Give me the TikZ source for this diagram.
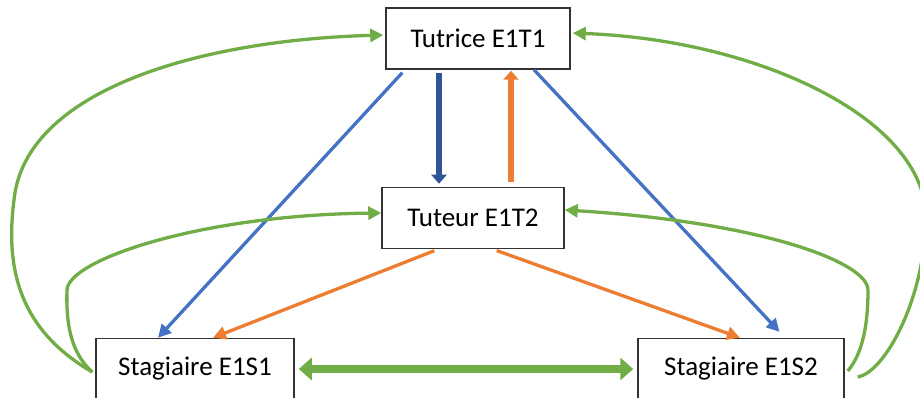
\documentclass[tikz,border=0pt]{standalone}
\usepackage{fontspec}
\setmainfont{Carlito}
\usepackage{tikz}
\usetikzlibrary{arrows.meta,positioning}
\definecolor{offblue}{HTML}{4472C4}
\definecolor{offnavy}{HTML}{2F5597}
\definecolor{offorange}{HTML}{ED7D31}
\definecolor{offgreen}{HTML}{70AD47}
\tikzset{box/.style={draw=black!80,line width=1.5pt,fill=white,inner sep=0pt,align=center,minimum height=61pt,font=\fontsize{27}{30}\selectfont}}
\tikzset{fat/.style={line width=6.5pt,-{Triangle[length=9pt,width=15pt]}}}

\begin{document}
\begin{tikzpicture}[x=1pt, y=-1pt, ->, >={Triangle[length=13pt,width=13pt]}, line width=3.3pt]
        \useasboundingbox (0,0) rectangle (920,398);
        \clip (0,0) rectangle (920,398);
        \node[box,minimum width=184pt] (t1) at (478,38.5) {Tutrice E1T1};
        \node[box,minimum width=182pt] (t2) at (473,218) {Tuteur E1T2};
        \node[box,minimum width=198pt] (s1) at (195,369) {Stagiaire E1S1};
        \node[box,minimum width=206pt] (s2) at (741,369) {Stagiaire E1S2};
        \draw[offblue, shorten <=4pt] ([xshift=-73pt]t1.south) -- ([xshift=-37pt]s1.north);
        \draw[offblue, shorten >=8pt] ([xshift=56pt]t1.south) -- ([xshift=44pt]s2.north);
        \draw[offnavy, fat, shorten <=3pt, shorten >=3pt] ([xshift=-39pt]t1.south) -- ([xshift=-34pt]t2.north);
        \draw[offorange, fat, shorten <=5pt, shorten >=1pt] ([xshift=38pt]t2.north) -- ([xshift=33pt]t1.south);
        \draw[offorange, shorten <=4pt] ([xshift=-35pt]t2.south) -- ([xshift=18pt]s1.north);
        \draw[offorange, shorten <=4pt] ([xshift=20pt]t2.south) -- ([xshift=-1pt]s2.north);
        \draw[offgreen] ([xshift=-3pt,yshift=-3pt]s1.west) .. controls (70,352) and (66,322) .. (67,290)
            .. controls (68,260) and (200,215) .. ([yshift=5pt]t2.west);
        \draw[offgreen, shorten >=2pt] ([xshift=-3pt,yshift=-3pt]s1.west) .. controls (20,330) and (5,270) .. (14,200)
            .. controls (25,90) and (200,40) .. ([yshift=3.5pt]t1.west);
        \draw[offgreen] ([xshift=3pt,yshift=-2pt]s2.east) .. controls (864,352) and (868,320) .. (868,290)
            .. controls (868,262) and (760,222) .. ([yshift=8pt]t2.east);
        \draw[offgreen, shorten >=2pt] ([xshift=13pt,yshift=-8pt]s2.east) .. controls (885,372) and (924,300) .. (926,220)
            .. controls (928,120) and (760,40) .. ([yshift=5.5pt]t1.east);
        \draw[offgreen, line width=8pt, {Triangle[length=13pt,width=22pt]}-{Triangle[length=13pt,width=22pt]}, shorten <=4pt, shorten >=4pt] (s1) -- (s2);
\end{tikzpicture}
\end{document}
